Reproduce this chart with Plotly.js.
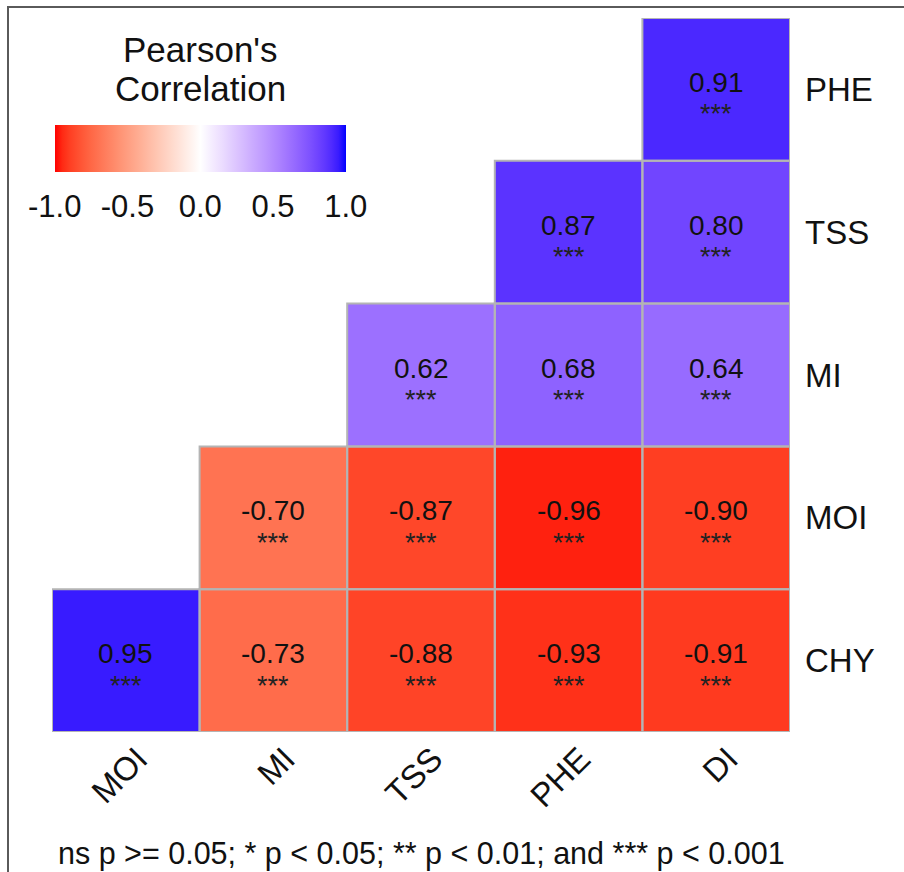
<!DOCTYPE html>
<html>
<head>
<meta charset="utf-8">
<script src="https://cdn.plot.ly/plotly-3.0.1.min.js"></script>
<style>html,body{margin:0;padding:0;background:#fff;}#chart{width:904px;height:872px;}</style>
</head>
<body>
<div id="chart"></div>
<script>
// ---- data ----
const xCats = ['MOI', 'MI', 'TSS', 'PHE', 'DI'];
const yCats = ['CHY', 'MOI', 'MI', 'TSS', 'PHE'];
const rowCHY = [0.95, -0.73, -0.88, -0.93, -0.91];
const rowMOI = [null, -0.70, -0.87, -0.96, -0.90];
const rowMI  = [null, null, 0.62, 0.68, 0.64];
const rowTSS = [null, null, null, 0.87, 0.80];
const rowPHE = [null, null, null, null, 0.91];
const sigCHY = ['***', '***', '***', '***', '***'];
const sigMOI = ['', '***', '***', '***', '***'];
const sigMI  = ['', '', '***', '***', '***'];
const sigTSS = ['', '', '', '***', '***'];
const sigPHE = ['', '', '', '', '***'];
const cbTicks = [-1.0, -0.5, 0.0, 0.5, 1.0];
const legendTitleLines = ["Pearson's", 'Correlation'];
const caption = 'ns p >= 0.05; * p < 0.05; ** p < 0.01; and *** p < 0.001';

const z = [rowCHY, rowMOI, rowMI, rowTSS, rowPHE];
const sig = [sigCHY, sigMOI, sigMI, sigTSS, sigPHE];

// ---- Lab-interpolated diverging colour scale (red - white - blue) ----
function lin(c) { c /= 255; return c <= 0.04045 ? c / 12.92 : Math.pow((c + 0.055) / 1.055, 2.4); }
function gam(c) { c = c <= 0.0031308 ? 12.92 * c : 1.055 * Math.pow(c, 1 / 2.4) - 0.055; return Math.max(0, Math.min(255, Math.round(c * 255))); }
const W = [0.95047, 1.0, 1.08883];
function f(t) { return t > 216 / 24389 ? Math.cbrt(t) : (24389 / 27 * t + 16) / 116; }
function finv(t) { return t * t * t > 216 / 24389 ? t * t * t : (116 * t - 16) / (24389 / 27); }
function toLab(rgb) {
  const [r, g, b] = rgb.map(lin);
  const X = (0.4124 * r + 0.3576 * g + 0.1805 * b) / W[0];
  const Y = (0.2126 * r + 0.7152 * g + 0.0722 * b) / W[1];
  const Z = (0.0193 * r + 0.1192 * g + 0.9505 * b) / W[2];
  return [116 * f(Y) - 16, 500 * (f(X) - f(Y)), 200 * (f(Y) - f(Z))];
}
function toRgb(lab) {
  const fy = (lab[0] + 16) / 116, fx = fy + lab[1] / 500, fz = fy - lab[2] / 200;
  const X = finv(fx) * W[0], Y = finv(fy) * W[1], Z = finv(fz) * W[2];
  const r = 3.2406 * X - 1.5372 * Y - 0.4986 * Z;
  const g = -0.9689 * X + 1.8758 * Y + 0.0415 * Z;
  const b = 0.0557 * X - 0.2040 * Y + 1.0570 * Z;
  return 'rgb(' + gam(r) + ',' + gam(g) + ',' + gam(b) + ')';
}
const labLow = toLab([255, 0, 0]), labMid = toLab([255, 255, 255]), labHigh = toLab([0, 0, 255]);
const colorscale = [];
const N = 40;
for (let k = 0; k <= N; k++) {
  const v = -1 + 2 * k / N;
  const end = v < 0 ? labLow : labHigh;
  const t = Math.abs(v);
  colorscale.push([k / N, toRgb(labMid.map((m, q) => m + (end[q] - m) * t))]);
}

// ---- layout geometry ----
const FIG_W = 904, FIG_H = 872;
const M = { l: 52, r: 114, t: 18, b: 140, autoexpand: false };
const plotW = FIG_W - M.l - M.r, plotH = FIG_H - M.t - M.b;
const pxToPaperY = py => (FIG_H - M.b - py) / plotH;
const FONT = '"Liberation Sans", Arial, sans-serif';

const shapes = [];
const annotations = [];
z.forEach((row, j) => row.forEach((v, i) => {
  if (v === null) return;
  shapes.push({ type: 'rect', xref: 'x', yref: 'y', x0: i - 0.5, x1: i + 0.5, y0: j - 0.5, y1: j + 0.5,
    line: { color: '#b4b4b4', width: 2 }, fillcolor: 'rgba(0,0,0,0)', layer: 'above' });
  annotations.push({ xref: 'x', yref: 'y', x: xCats[i], y: yCats[j], text: v.toFixed(2),
    showarrow: false, xanchor: 'center', yanchor: 'middle', yshift: 7,
    font: { family: FONT, size: 28, color: '#111' } });
  annotations.push({ xref: 'x', yref: 'y', x: xCats[i], y: yCats[j], text: sig[j][i],
    showarrow: false, xanchor: 'center', yanchor: 'middle', yshift: -25,
    font: { family: FONT, size: 27, color: '#222' } });
}));
// outer frame of the figure (left and top edges visible)
shapes.push({ type: 'rect', xref: 'paper', yref: 'paper',
  x0: (8 - M.l) / plotW, x1: (FIG_W + 20 - M.l) / plotW,
  y0: pxToPaperY(FIG_H + 20), y1: pxToPaperY(7),
  line: { color: '#5a5a5a', width: 2 }, fillcolor: 'rgba(0,0,0,0)', layer: 'below' });

// legend title (two lines, centred over the colour bar)
legendTitleLines.forEach((line, k) => {
  annotations.push({ xref: 'paper', yref: 'paper', x: (200 - M.l) / plotW, y: pxToPaperY([50, 89][k]),
    xanchor: 'center', yanchor: 'middle', showarrow: false, text: line,
    font: { family: FONT, size: 35, color: '#111' } });
});
// caption
annotations.push({ text: caption, xref: 'paper', yref: 'paper', x: 0.5, xanchor: 'center',
  y: pxToPaperY(853), yanchor: 'middle', showarrow: false,
  font: { family: FONT, size: 30.5, color: '#111' } });

const trace = {
  type: 'heatmap', x: xCats, y: yCats, z: z,
  zmin: -1, zmax: 1, colorscale: colorscale, hoverinfo: 'skip',
  colorbar: {
    orientation: 'h', xref: 'container', yref: 'container',
    x: 67 / FIG_W, xanchor: 'left', y: (FIG_H - 125) / FIG_H, yanchor: 'top',
    lenmode: 'pixels', len: 291, thickness: 47, xpad: 0, ypad: 0,
    outlinewidth: 0, tickvals: cbTicks, ticktext: cbTicks.map(v => v.toFixed(1)),
    ticks: 'outside', ticklen: 8, tickwidth: 2, tickcolor: '#ffffff',
    tickfont: { family: FONT, size: 31, color: '#111' }
  }
};

const layout = {
  width: FIG_W, height: FIG_H, autosize: false,
  margin: M, paper_bgcolor: '#ffffff', plot_bgcolor: '#ffffff',
  font: { family: FONT, color: '#111' },
  xaxis: { type: 'category', range: [-0.5, 4.5], showgrid: false, zeroline: false, showline: false,
    ticks: '', tickangle: -45, ticklabelshift: 12, tickfont: { family: FONT, size: 33, color: '#111' }, fixedrange: true },
  yaxis: { type: 'category', range: [-0.5, 4.5], side: 'right', showgrid: false, zeroline: false, showline: false,
    ticks: '', ticklabelstandoff: 14, tickfont: { family: FONT, size: 33, color: '#111' }, fixedrange: true },
  shapes: shapes,
  annotations: annotations
};

Plotly.newPlot('chart', [trace], layout, { displayModeBar: false, staticPlot: true });
</script>
</body>
</html>
